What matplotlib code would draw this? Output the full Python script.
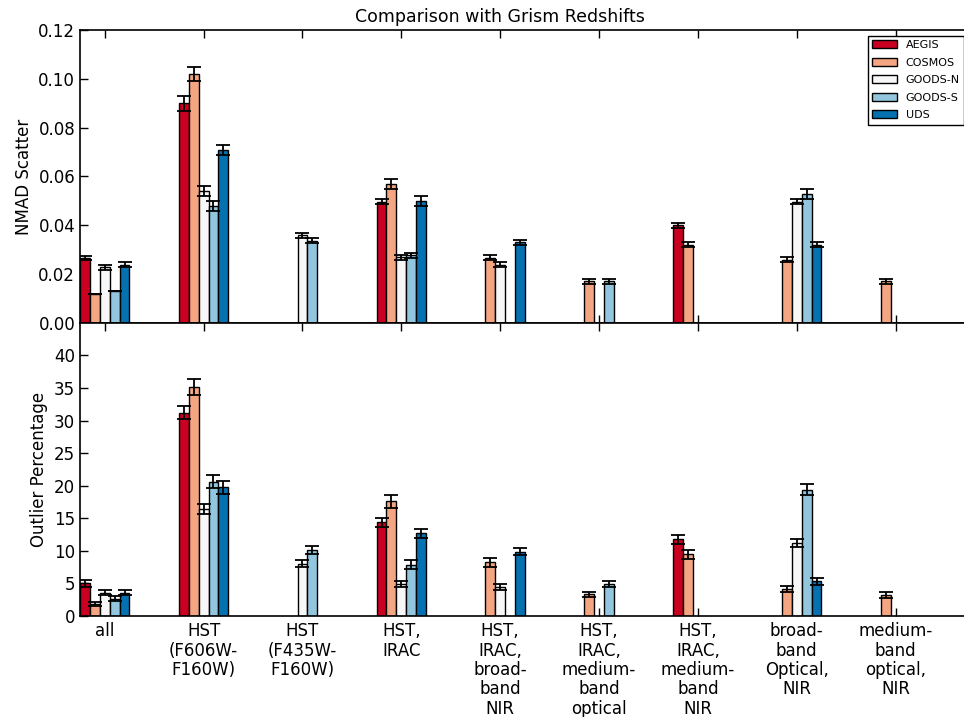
"""NMAD scatter and outlier fraction vs grism redshifts, per field."""
import matplotlib

matplotlib.use("Agg")
import matplotlib.pyplot as plt
import numpy as np

nan = np.nan

categories = ["all", "HST\n(F606W-\nF160W)", "HST\n(F435W-\nF160W)", "HST,\nIRAC",
              "HST,\nIRAC,\nbroad-\nband\nNIR", "HST,\nIRAC,\nmedium-\nband\noptical",
              "HST,\nIRAC,\nmedium-\nband\nNIR", "broad-\nband\nOptical,\nNIR",
              "medium-\nband\noptical,\nNIR"]
fields = ["AEGIS", "COSMOS", "GOODS-N", "GOODS-S", "UDS"]
colors = ["#ca0020", "#f4a582", "#f7f7f7", "#92c5de", "#0571b0"]

# NMAD scatter, one list per field (nan = no bar)
nmad_aegis = [0.0265, 0.090, nan, 0.0497, nan, nan, 0.040, nan, nan]
nmad_cosmos = [0.012, 0.102, nan, 0.057, 0.0268, 0.017, 0.032, 0.026, 0.017]
nmad_goodsn = [0.0228, 0.054, 0.036, 0.027, 0.0238, nan, nan, 0.0497, nan]
nmad_goodss = [0.013, 0.048, 0.0337, 0.0277, nan, 0.017, nan, 0.0528, nan]
nmad_uds = [0.0238, 0.071, nan, 0.050, 0.033, nan, nan, 0.032, nan]

nmad_err_aegis = [0.0009, 0.003, nan, 0.001, nan, nan, 0.001, nan, nan]
nmad_err_cosmos = [0.0, 0.003, nan, 0.002, 0.001, 0.001, 0.001, 0.001, 0.001]
nmad_err_goodsn = [0.0009, 0.002, 0.001, 0.001, 0.001, nan, nan, 0.001, nan]
nmad_err_goodss = [0.0, 0.002, 0.001, 0.001, nan, 0.001, nan, 0.002, nan]
nmad_err_uds = [0.001, 0.002, nan, 0.002, 0.001, nan, nan, 0.001, nan]

# outlier percentage
out_aegis = [5.0, 31.2, nan, 14.4, nan, nan, 11.8, nan, nan]
out_cosmos = [1.8, 35.2, nan, 17.6, 8.25, 3.3, 9.5, 4.15, 3.2]
out_goodsn = [3.6, 16.45, 8.05, 4.9, 4.4, nan, nan, 11.2, nan]
out_goodss = [2.65, 20.65, 10.1, 7.9, nan, 4.9, nan, 19.4, nan]
out_uds = [3.6, 19.75, nan, 12.7, 9.9, nan, nan, 5.3, nan]

out_err_aegis = [0.5, 1.0, nan, 0.7, nan, nan, 0.7, nan, nan]
out_err_cosmos = [0.3, 1.2, nan, 1.0, 0.7, 0.4, 0.7, 0.5, 0.45]
out_err_goodsn = [0.4, 0.8, 0.6, 0.5, 0.45, nan, nan, 0.6, nan]
out_err_goodss = [0.35, 0.95, 0.6, 0.65, nan, 0.5, nan, 0.8, nan]
out_err_uds = [0.4, 0.95, nan, 0.7, 0.6, nan, nan, 0.55, nan]

nmad = [nmad_aegis, nmad_cosmos, nmad_goodsn, nmad_goodss, nmad_uds]
nmad_err = [nmad_err_aegis, nmad_err_cosmos, nmad_err_goodsn, nmad_err_goodss, nmad_err_uds]
outl = [out_aegis, out_cosmos, out_goodsn, out_goodss, out_uds]
outl_err = [out_err_aegis, out_err_cosmos, out_err_goodsn, out_err_goodss, out_err_uds]

plt.rcParams["font.family"] = "DejaVu Sans"
plt.rcParams["xtick.direction"] = "in"
plt.rcParams["ytick.direction"] = "in"

fig = plt.figure(figsize=(9.64, 7.17), dpi=100)
ax1 = fig.add_axes([0.083, 0.5495, 0.923, 0.4087])
ax2 = fig.add_axes([0.083, 0.1409, 0.923, 0.4087])

x = np.arange(len(categories))
width = 0.1


def draw(ax, values, errors):
    for i, (vals, errs) in enumerate(zip(values, errors)):
        pos = x + (i - 2) * width
        ax.bar(pos, vals, width, color=colors[i], edgecolor="black", linewidth=1.0,
               label=fields[i], zorder=2)
        ax.errorbar(pos, vals, yerr=errs, fmt="none", ecolor="black", elinewidth=1.3,
                    capsize=5, capthick=1.3, zorder=3)
    ax.set_xlim(-0.25, 8.75)
    ax.set_xticks(x)
    ax.tick_params(axis="both", which="both", top=True, right=False, labelsize=12,
                   length=6, width=1)
    for s in ax.spines.values():
        s.set_linewidth(1.2)


draw(ax1, nmad, nmad_err)
ax1.set_ylim(0, 0.12)
ax1.set_yticks(np.arange(0, 0.121, 0.02))
ax1.set_yticklabels([f"{v:.2f}" for v in np.arange(0, 0.121, 0.02)])
ax1.set_xticklabels([])
ax1.set_ylabel("NMAD Scatter", fontsize=12)
ax1.text(0.472, 1.012, "Comparison with Grism Redshifts", transform=ax1.transAxes,
         ha="center", va="bottom", fontsize=12.5)
leg = ax1.legend(loc="upper right", fontsize=8, fancybox=False, framealpha=1,
                 edgecolor="black", borderaxespad=0.5, labelspacing=0.68,
                 handlelength=2.2)
leg.get_frame().set_linewidth(1.0)

draw(ax2, outl, outl_err)
ax2.set_ylim(0, 45)
ax2.set_yticks(np.arange(0, 41, 5))
ax2.set_xticklabels(categories, fontsize=12, linespacing=1.1)
ax2.tick_params(axis="x", pad=4.5)
ax2.set_ylabel("Outlier Percentage", fontsize=12)

fig.savefig("out.png", dpi=100)
plt.close(fig)
